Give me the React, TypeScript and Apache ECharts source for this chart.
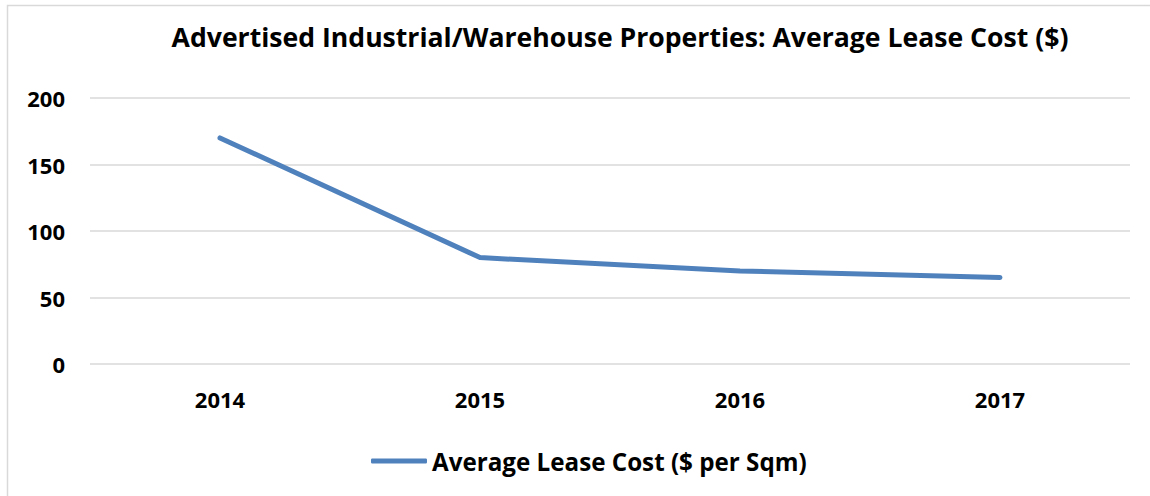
import React, { useEffect, useRef } from "react";
import * as echarts from "echarts";

const title = "Advertised Industrial/Warehouse Properties: Average Lease Cost ($)";
const seriesName = "Average Lease Cost ($ per Sqm)";
const years = ["2014", "2015", "2016", "2017"];
const leaseCost = [170, 80, 70, 65];

export default function App() {
  const ref = useRef<HTMLDivElement>(null);
  useEffect(() => {
    if (!ref.current) return;
    const chart = echarts.init(ref.current, null, { renderer: "svg" });
    const font = "'Open Sans', Lato, sans-serif";
    chart.setOption({
      animation: false,
      backgroundColor: "#ffffff",
      title: {
        text: title,
        left: 615,
        top: 18,
        textAlign: "center",
        textStyle: { fontFamily: font, fontWeight: "bold", fontSize: 26.6, color: "#000" },
      },
      graphic: [
        {
          type: "rect",
          shape: { x: 7.5, y: 5.5, width: 1160, height: 520 },
          style: { fill: "none", stroke: "#d9d9d9", lineWidth: 1.5 },
          silent: true,
        },
      ],
      grid: { left: 90, right: 20, top: 98, bottom: 132, containLabel: false },
      legend: {
        data: [seriesName],
        left: 366,
        top: 444,
        icon: "roundRect",
        itemWidth: 56,
        itemHeight: 5,
        itemGap: 4,
        textStyle: { fontFamily: font, fontWeight: "bold", fontSize: 24.2, color: "#000", padding: [0, 0, 0, 0] },
      },
      xAxis: {
        type: "category",
        data: years,
        boundaryGap: true,
        axisLine: { show: false },
        axisTick: { show: false },
        axisLabel: { fontFamily: font, fontWeight: "bold", fontSize: 22, color: "#000", margin: 24 },
      },
      yAxis: {
        type: "value",
        min: 0,
        max: 200,
        interval: 50,
        axisLine: { show: false },
        axisTick: { show: false },
        splitLine: { lineStyle: { color: "#d9d9d9", width: 1.5 } },
        axisLabel: { fontFamily: font, fontWeight: "bold", fontSize: 22, color: "#000", margin: 25 },
      },
      series: [
        {
          name: seriesName,
          type: "line",
          data: leaseCost,
          symbol: "none",
          lineStyle: { color: "#4f81bd", width: 5, cap: "round", join: "round" },
          itemStyle: { color: "#4f81bd" },
        },
      ],
    });
    return () => chart.dispose();
  }, []);
  return (
    <div
      ref={ref}
      style={{ position: "fixed", left: 0, top: 0, width: 1150, height: 496 }}
    />
  );
}
